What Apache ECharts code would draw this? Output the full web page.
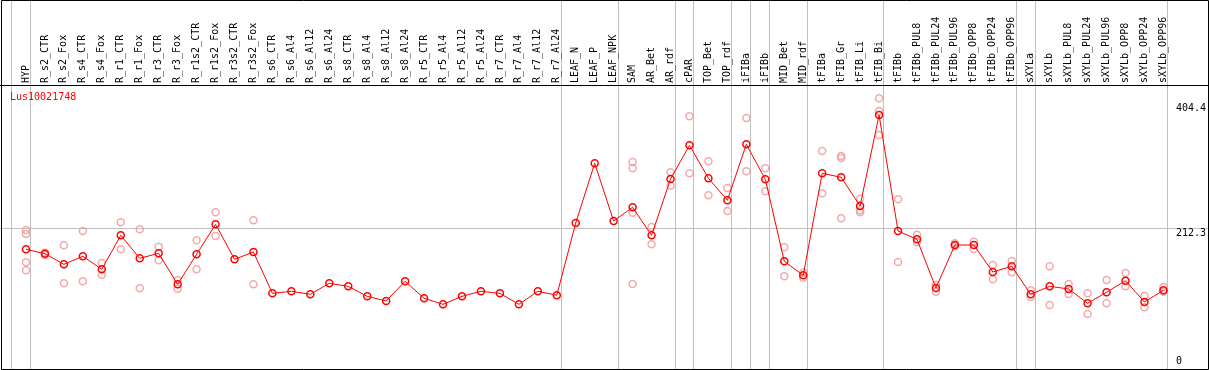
<!DOCTYPE html>
<html>
<head>
<meta charset="utf-8">
<script src="https://cdn.jsdelivr.net/npm/echarts@6/dist/echarts.min.js"></script>
<style>
html,body{margin:0;padding:0;background:#fff;}
#chart{width:1209px;height:370px;}
</style>
</head>
<body>
<div id="chart"></div>
<script>
const chartTitle = 'Lus10021748';

const categories = ['HYP','R_s2_CTR','R_s2_Fox','R_s4_CTR','R_s4_Fox','R_r1_CTR','R_r1_Fox','R_r3_CTR','R_r3_Fox',
  'R_r1s2_CTR','R_r1s2_Fox','R_r3s2_CTR','R_r3s2_Fox','R_s6_CTR','R_s6_Al4','R_s6_Al12','R_s6_Al24',
  'R_s8_CTR','R_s8_Al4','R_s8_Al12','R_s8_Al24','R_r5_CTR','R_r5_Al4','R_r5_Al12','R_r5_Al24',
  'R_r7_CTR','R_r7_Al4','R_r7_Al12','R_r7_Al24','LEAF_N','LEAF_P','LEAF_NPK','SAM','AR_Bet','AR_rdf',
  'cPAR','TOP_Bet','TOP_rdf','iFIBa','iFIBb','MID_Bet','MID_rdf','tFIBa','tFIB_Gr','tFIB_Li','tFIB_Bi',
  'tFIBb','tFIBb_PUL8','tFIBb_PUL24','tFIBb_PUL96','tFIBb_OPP8','tFIBb_OPP24','tFIBb_OPP96',
  'sXYLa','sXYLb','sXYLb_PUL8','sXYLb_PUL24','sXYLb_PUL96','sXYLb_OPP8','sXYLb_OPP24','sXYLb_OPP96'];

const means = [180.0,173.2,156.9,169.2,149.2,201.5,166.1,173.8,126.2,
  172.3,218.4,164.6,175.8,112.3,115.4,110.8,127.7,
  123.1,107.7,100.5,130.8,104.7,95.4,107.7,115.4,
  112.3,95.4,115.4,109.3,220.4,312.1,223.5,244.5,201.5,288.0,
  339.8,289.1,255.3,341.3,287.5,161.5,140.0,296.8,290.6,246.5,386.4,
  208.1,195.3,120.5,186.6,186.6,145.1,153.8,
  110.8,123.1,119.0,97.0,113.9,131.7,99.0,117.0];

const replicates = [
  [209.6,203.5,160.0,147.7],[174.7,171.2],[186.1,127.7],[208.1,130.8],[158.9,140.9],
  [221.5,180.0],[210.7,120.0],[184.0,163.1],[132.8,119.4],[193.8,149.2],[236.8,200.4],
  [],[224.5,126.2],
  [],[],[],[],[],[],[],[],[],[],[],[],[],[],[],[],
  [],[],[],
  [314.1,304.4,236.2,126.6],[214.2,187.6],[298.3,277.7],[384.4,296.8],[315.2,262.9],
  [274.2,238.8],[381.7,299.8],[304.4,269.1],[183.0,138.5],[144.0,136.3],[331.0,266.0],
  [323.3,320.3,227.6],[257.7,239.9,236.8],[412.0,392.5,355.6],
  [256.8,160.4],[202.4,190.7],[125.1,114.8],[189.2,184.5],[191.6,180.4],[155.8,133.9],[162.0,144.6],
  [117.0,106.7],[153.8,94.4],[126.6,111.3],[112.3,80.5],[132.8,97.0],[143.5,123.1],[108.2,90.8],[122.0,114.8]
];

const yTickValues = [0, 212.3, 404.4];
const yGridValue = 212.3;
// indices of the last category of each group (separator line drawn after it)
const groupEnds = [-1, 0, 28, 31, 34, 35, 37, 38, 39, 41, 45, 52, 53, 60];

const FONT = 'DejaVu Sans Mono';
const chart = echarts.init(document.getElementById('chart'), null, {renderer: 'canvas'});

const repData = [];
replicates.forEach((reps, i) => reps.forEach(v => repData.push([i, v])));

const yBase = {
  type: 'value', min: 0, max: 432.5, position: 'right',
  axisLine: {show: false}, axisTick: {show: false}, splitLine: {show: false}
};

chart.setOption({
  animation: false,
  backgroundColor: '#ffffff',
  title: {
    text: chartTitle, left: 10, top: 92, padding: 0,
    textStyle: {color: '#ff0000', fontSize: 10, fontWeight: 'normal', fontFamily: FONT}
  },
  grid: {left: 16.5, right: 33.5, top: 85, bottom: 3.6, containLabel: false},
  xAxis: {
    type: 'category', data: categories, position: 'top', boundaryGap: true,
    axisLine: {show: false}, axisTick: {show: false}, splitLine: {show: false},
    axisLabel: {interval: 0, rotate: 90, margin: 2, color: '#000', fontSize: 10, fontFamily: FONT}
  },
  yAxis: [
    Object.assign({}, yBase, {
      axisLabel: {customValues: yTickValues.filter(v => v > 0), verticalAlign: 'top', align: 'left',
        margin: 3, color: '#000', fontSize: 10, fontFamily: FONT, formatter: v => String(v)}
    }),
    Object.assign({}, yBase, {
      axisLabel: {customValues: yTickValues.filter(v => v === 0), verticalAlign: 'bottom', align: 'left',
        margin: 3, color: '#000', fontSize: 10, fontFamily: FONT, formatter: v => String(v)}
    })
  ],
  series: [
    {
      type: 'scatter', name: 'replicates', data: repData, yAxisIndex: 0,
      symbol: 'circle', symbolSize: 7, z: 3,
      itemStyle: {color: 'rgba(0,0,0,0)', borderColor: '#f09595', borderWidth: 1.5}
    },
    {
      type: 'line', name: 'mean', data: means, yAxisIndex: 0,
      symbol: 'circle', symbolSize: 7, showAllSymbol: true, z: 4,
      lineStyle: {color: '#ff0000', width: 1},
      itemStyle: {color: 'rgba(0,0,0,0)', borderColor: '#ff0000', borderWidth: 1.5}
    }
  ]
});

// frame, separators and grid line from the axes' own scales
const p0 = chart.convertToPixel({xAxisIndex: 0}, categories[0]);
const p1 = chart.convertToPixel({xAxisIndex: 0}, categories[1]);
const band = p1 - p0;
const yG = Math.round(chart.convertToPixel({yAxisIndex: 0}, yGridValue)) + 0.5;
const W = 1209, H = 370;
const gray = '#c0c0c0';
const graphics = [];
groupEnds.forEach(i => {
  const x = Math.round(p0 + band * i + 4) + 0.5;
  graphics.push({type: 'line', z: -1, shape: {x1: x, y1: 0, x2: x, y2: H}, style: {stroke: gray, lineWidth: 1}});
});
graphics.push({type: 'line', z: -1, shape: {x1: 0, y1: yG, x2: W, y2: yG}, style: {stroke: gray, lineWidth: 1}});
graphics.push({type: 'line', z: 10, shape: {x1: 0, y1: 85.5, x2: W, y2: 85.5}, style: {stroke: '#000', lineWidth: 1}});
graphics.push({type: 'rect', z: 10, shape: {x: 1.5, y: 0.5, width: 1207, height: 369}, style: {fill: null, stroke: '#000', lineWidth: 1}});
chart.setOption({graphic: graphics});
</script>
</body>
</html>
